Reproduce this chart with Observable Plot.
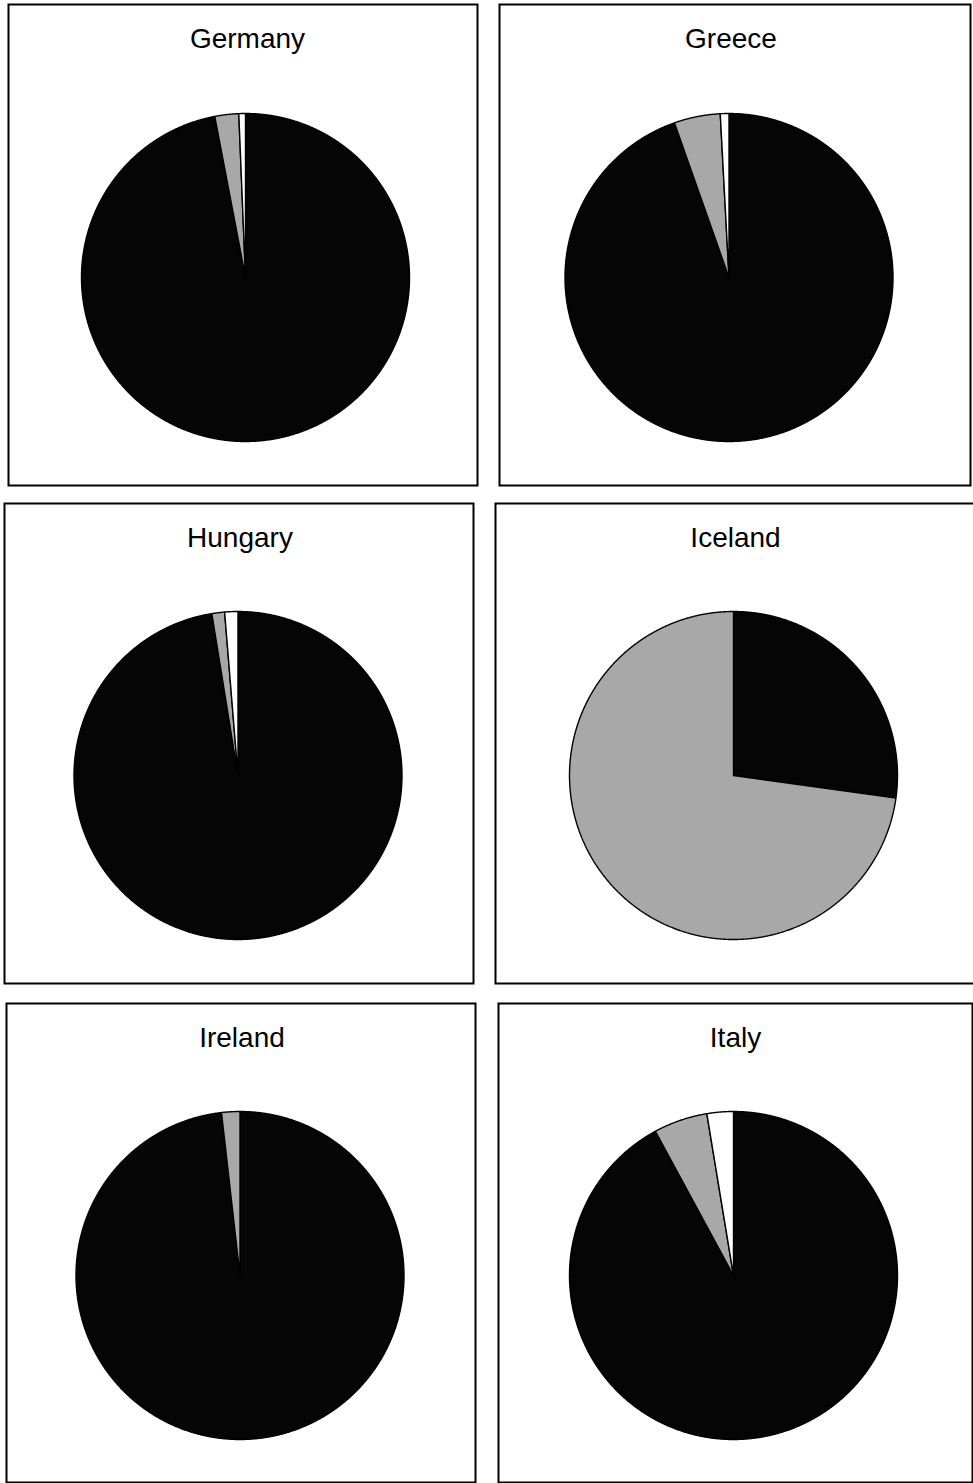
<!DOCTYPE html>
<html>
<head>
<meta charset="utf-8">
<script src="https://cdn.jsdelivr.net/npm/d3@7"></script>
<script src="https://cdn.jsdelivr.net/npm/@observablehq/plot@0.6"></script>
<style>
  html, body { margin: 0; padding: 0; background: #fff; overflow: hidden; }
  #page { position: relative; width: 973px; height: 1483px; overflow: hidden; }
  .panel { position: absolute; }
  .panel svg { overflow: visible; max-width: none !important; display: block; }
</style>
</head>
<body>
<div id="page"></div>
<script>
// ---- data (percent shares, clockwise from 12 o'clock) ----
const countries = ["Germany", "Greece", "Hungary", "Iceland", "Ireland", "Italy"];
const categories = ["Category 1", "Category 2", "Category 3"];
const shareCat1 = [97.0, 94.6, 97.45, 27.2, 98.2, 92.1];
const shareCat2 = [2.35, 4.55, 1.25, 72.8, 1.8, 5.3];
const shareCat3 = [0.65, 0.85, 1.3, 0, 0, 2.6];

// ---- styling / layout (not data) ----
const colors = {"Category 1": "#050505", "Category 2": "#a8a8a8", "Category 3": "#ffffff"};
const radiusPx = 164;
// panel boxes: left, top, right, bottom; pie centres cx, cy (page pixels)
const panelLayout = [
  {left: 8,   top: 4,    right: 477, bottom: 485,  cx: 245,   cy: 277},
  {left: 499, top: 4,    right: 970, bottom: 485,  cx: 728.5, cy: 277},
  {left: 4,   top: 503,  right: 473, bottom: 983,  cx: 237.5, cy: 775},
  {left: 495, top: 503,  right: 977, bottom: 983,  cx: 733,   cy: 775},
  {left: 6,   top: 1003, right: 475, bottom: 1482, cx: 239.5, cy: 1275},
  {left: 498, top: 1003, right: 972, bottom: 1482, cx: 733,   cy: 1275}
];

const page = document.getElementById("page");

countries.forEach((country, i) => {
  const values = [shareCat1[i], shareCat2[i], shareCat3[i]];
  const slices = categories.map((c, k) => ({category: c, value: values[k]}));
  const arcs = d3.pie().sort(null).value(d => d.value).startAngle(0).endAngle(2 * Math.PI)(slices);

  // build slice outlines in radius units (y up), angle clockwise from top
  const pts = [];
  arcs.forEach(a => {
    if (a.data.value <= 0) return;
    const key = a.data.category;
    const span = a.endAngle - a.startAngle;
    const n = Math.max(2, Math.ceil(span / (Math.PI / 720)));
    pts.push({key, x: 0, y: 0});
    for (let j = 0; j <= n; j++) {
      const t = a.startAngle + span * j / n;
      pts.push({key, x: Math.sin(t), y: Math.cos(t)});
    }
    pts.push({key, x: 0, y: 0});
  });

  const L = panelLayout[i];
  const W = L.right - L.left, H = L.bottom - L.top;
  const r = radiusPx;

  const sliceMarks = categories
    .filter(c => pts.some(p => p.key === c))
    .map(c => Plot.line(pts.filter(p => p.key === c), {
      x: "x", y: "y",
      fill: colors[c], stroke: "#000", strokeWidth: 1.4,
      strokeLinejoin: "miter", curve: "linear"
    }));

  const titleY = (L.cy - (L.top + 35)) / r;

  const chart = Plot.plot({
    width: W + 2, height: H + 2,
    margin: 1,
    x: {domain: [(L.left - L.cx) / r, (L.right - L.cx) / r], axis: null},
    y: {domain: [(L.cy - L.bottom) / r, (L.cy - L.top) / r], axis: null},
    style: {background: "transparent", overflow: "visible", maxWidth: "none"},
    marks: [
      ...sliceMarks,
      Plot.text([country], {
        x: () => 2 / r, y: () => titleY, text: d => d,
        fontSize: 28, fontFamily: "Liberation Sans, Arial, sans-serif",
        fill: "#000", textAnchor: "middle"
      }),
      Plot.frame({stroke: "#000", strokeWidth: 2})
    ]
  });

  const div = document.createElement("div");
  div.className = "panel";
  div.style.left = (L.left - 1) + "px";
  div.style.top = (L.top - 1) + "px";
  div.style.width = (W + 2) + "px";
  div.style.height = (H + 2) + "px";
  div.appendChild(chart);
  page.appendChild(div);
});
</script>
</body>
</html>
